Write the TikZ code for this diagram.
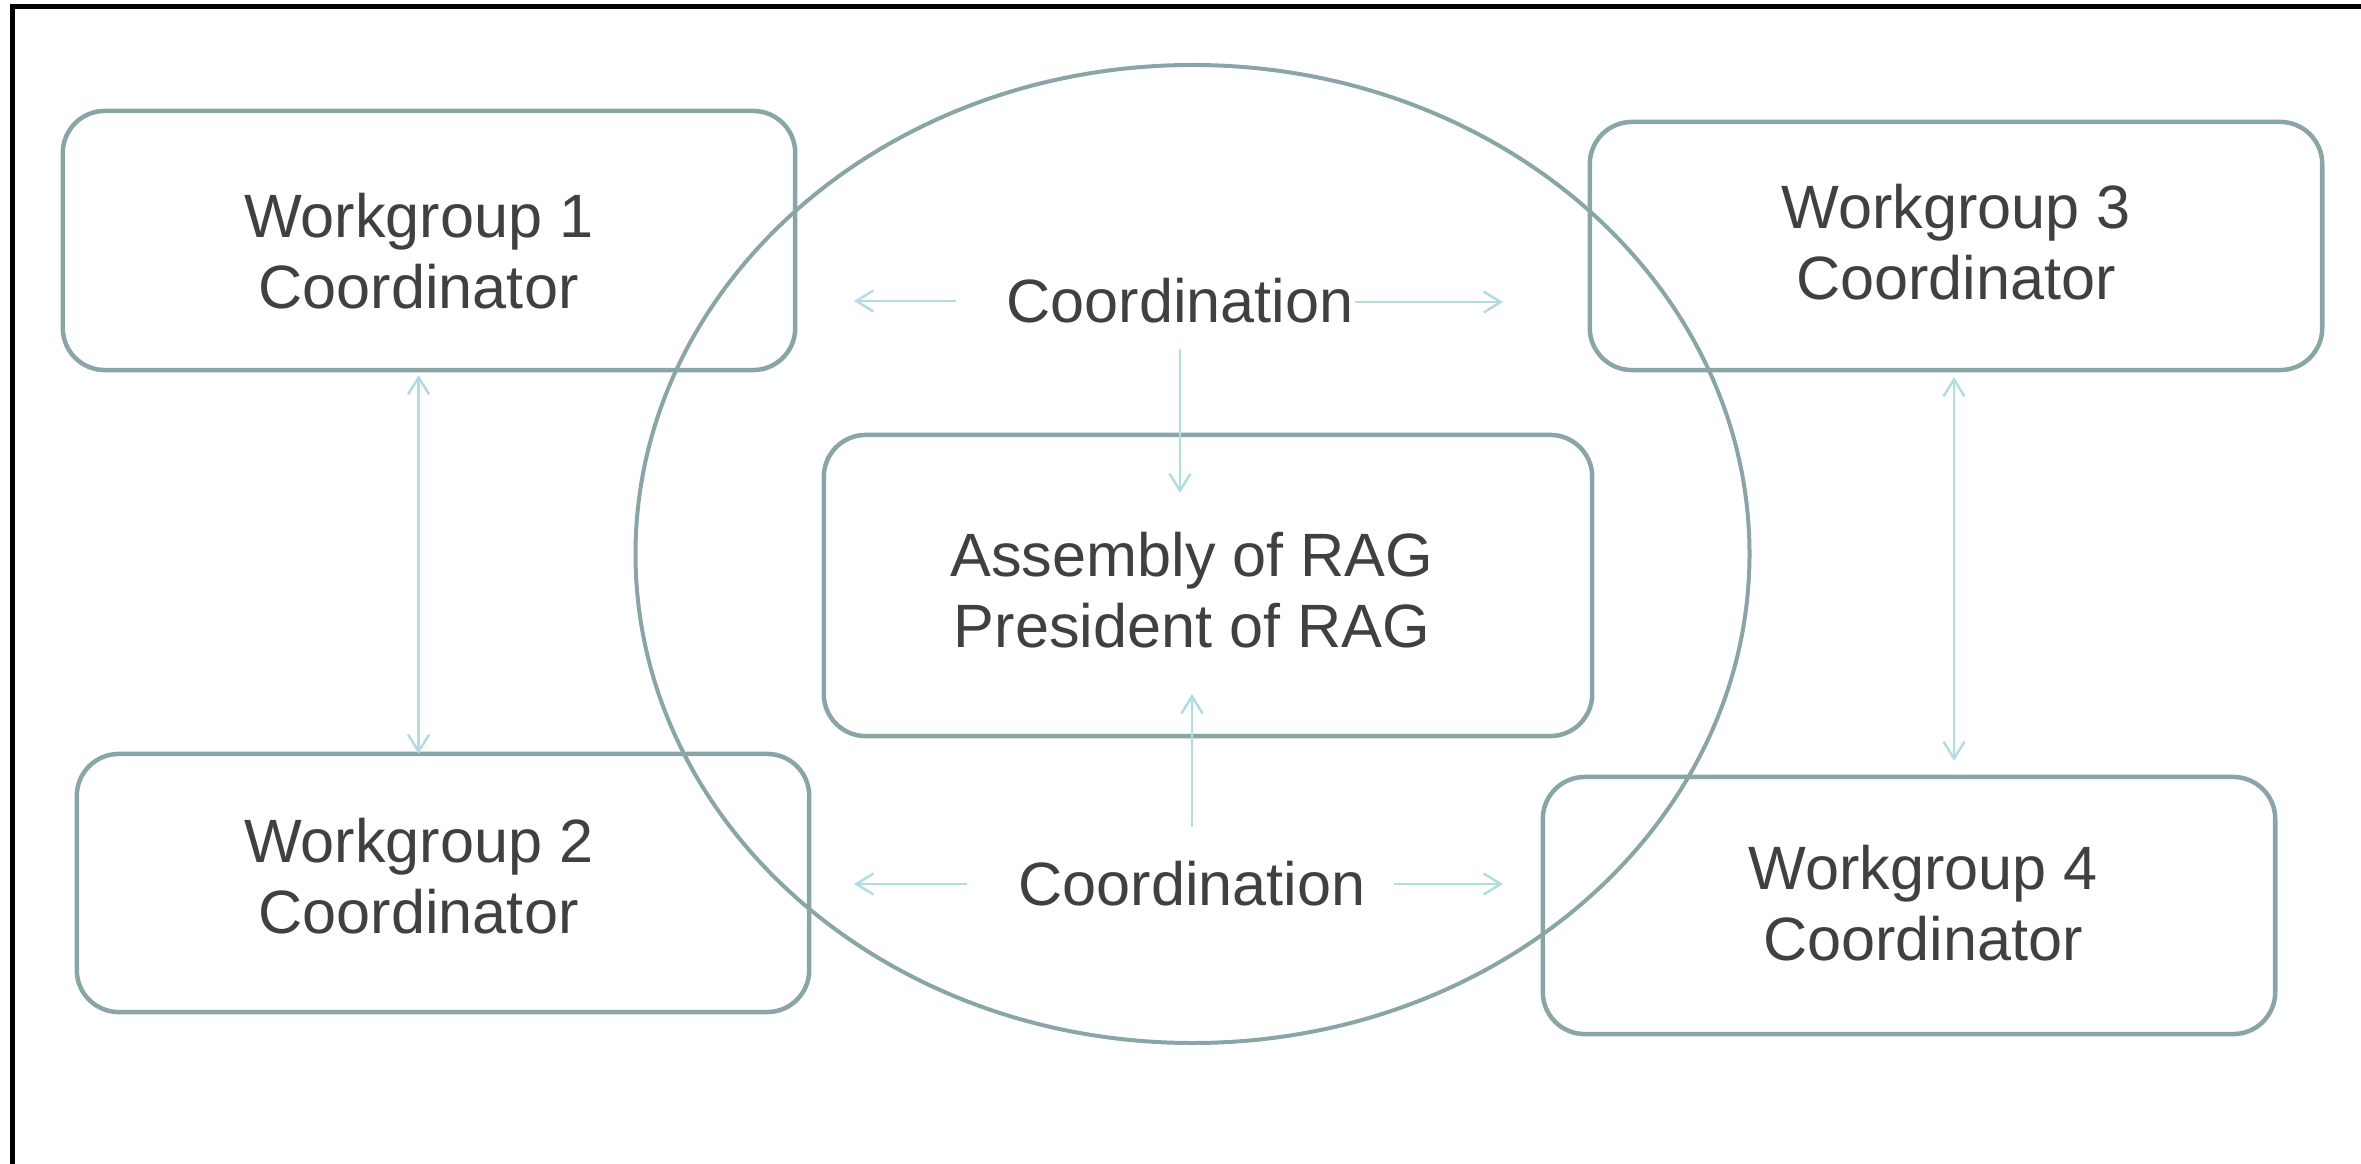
\documentclass[tikz,border=0pt]{standalone}
\usepackage{fontspec}
\setmainfont{Liberation Sans}
\usetikzlibrary{arrows.meta}
\definecolor{boxline}{HTML}{8BA5A7}
\definecolor{arrline}{HTML}{B3DCE0}
\definecolor{txtcol}{HTML}{404040}
\tikzset{
  box/.style={draw=boxline, line width=0.045cm, rounded corners=0.42cm, inner sep=0pt},
  txt/.style={text=txtcol, align=center, inner sep=0pt, font=\fontsize{17.4pt}{20.2pt}\selectfont},
  conn/.style={draw=arrline, line width=0.025cm, -{Straight Barb[length=0.17cm,width=0.21cm]}},
  dconn/.style={draw=arrline, line width=0.025cm, {Straight Barb[length=0.17cm,width=0.21cm]}-{Straight Barb[length=0.17cm,width=0.21cm]}},
  frame/.style={draw=black, line width=0.05cm}
}
\begin{document}
\begin{tikzpicture}[x=0.01cm,y=-0.01cm]
\useasboundingbox (0,0) rectangle (2361,1164);
% frame (top and left only)
\coordinate (ftl) at (10,6.5);
\coordinate (ftr) at (2361,6.5);
\coordinate (fbl) at (12.5,1164);
\draw[frame] (ftl) -- (ftr);
\draw[frame] (12.5,4) -- (fbl);

% boxes
\node[box, minimum width=7.32cm, minimum height=2.59cm] (wg1box) at (429,240.5) {};
\node[box, minimum width=7.32cm, minimum height=2.48cm] (wg3box) at (1956,246) {};
\node[box, minimum width=7.32cm, minimum height=2.58cm] (wg2box) at (443,883) {};
\node[box, minimum width=7.32cm, minimum height=2.57cm] (wg4box) at (1909,905.5) {};
\node[box, minimum width=7.68cm, minimum height=3.01cm] (cbox) at (1208,585.5) {};

% ellipse
\draw[draw=boxline, line width=0.04cm] (1192.5,554) ellipse [x radius=557, y radius=489];

% texts
\node[txt] (wg1) at (418.6,250.7) {Workgroup 1\\Coordinator};
\node[txt] (wg3) at (1956,241.7) {Workgroup 3\\Coordinator};
\node[txt] (wg2) at (418.6,876.3) {Workgroup 2\\Coordinator};
\node[txt] (wg4) at (1923,903) {Workgroup 4\\Coordinator};
\node[txt] (center) at (1192,590) {Assembly of RAG\\President of RAG};
\node[txt] (coordtop) at (1180,301) {Coordination};
\node[txt] (coordbot) at (1192,884) {Coordination};

% arrow endpoints
\coordinate (t1s) at (956,301);   \coordinate (t1e) at (854,301);
\coordinate (t2s) at (1355,302);  \coordinate (t2e) at (1503,302);
\coordinate (t3s) at (1180,349);  \coordinate (t3e) at (1180,493);
\coordinate (b1s) at (1192,827);  \coordinate (b1e) at (1192,694);
\coordinate (b2s) at (967,884);   \coordinate (b2e) at (854,884);
\coordinate (b3s) at (1394,884);  \coordinate (b3e) at (1503,884);
\coordinate (l1) at (418.6,375);  \coordinate (l2) at (418.6,754);
\coordinate (r1) at (1954,377);   \coordinate (r2) at (1954,761);

\draw[conn] (t1s) -- (t1e);
\draw[conn] (t2s) -- (t2e);
\draw[conn] (t3s) -- (t3e);
\draw[conn] (b1s) -- (b1e);
\draw[conn] (b2s) -- (b2e);
\draw[conn] (b3s) -- (b3e);
\draw[dconn] (l1) -- (l2);
\draw[dconn] (r1) -- (r2);
\end{tikzpicture}
\end{document}
